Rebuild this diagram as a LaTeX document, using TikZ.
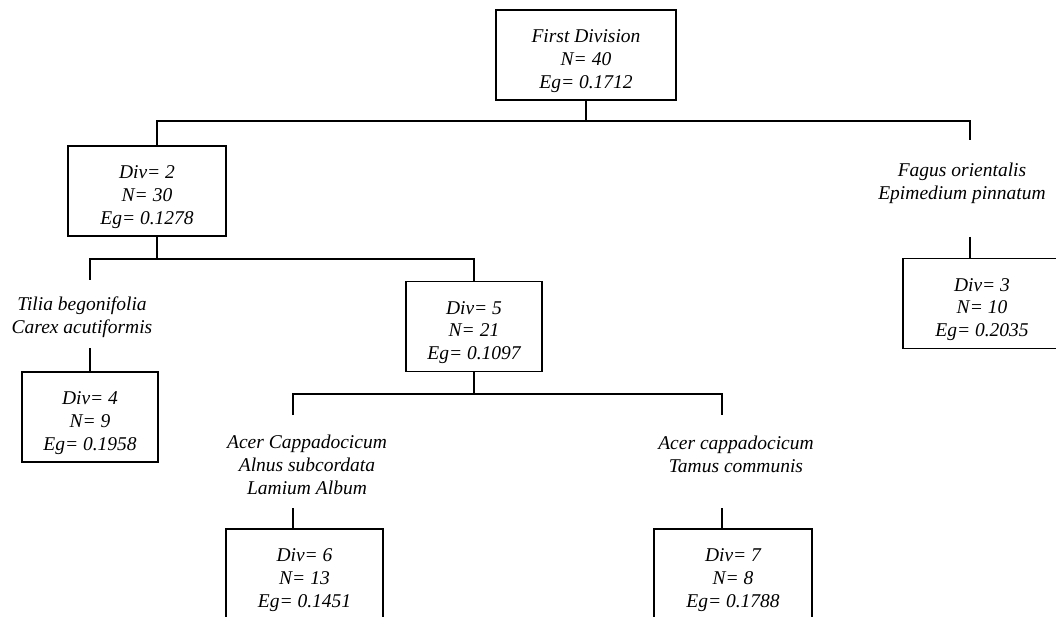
\documentclass[tikz,border=0pt]{standalone}
\usepackage{fontspec}
\setmainfont{Liberation Serif}
\newcommand\dvstrut{\rule{0pt}{25pt}}
\begin{document}
\begin{tikzpicture}[x=1pt,y=-1pt,
  txt/.style={font=\fontsize{19.5}{22.7}\selectfont\itshape, align=center, inner sep=0pt},
  divbox/.style={txt, draw, line width=1.6pt, minimum height=90pt},
  conn/.style={line width=1.6pt}]
\useasboundingbox (0,0) rectangle (1056,617);
\clip (0,0) rectangle (1056,617);
% boxes
\node[divbox, minimum width=180pt] (top) at (586,55) {\dvstrut First Division\\N= 40\\Eg= 0.1712};
\node[divbox, minimum width=158pt] (d2) at (147,191) {\dvstrut Div= 2\\N= 30\\Eg= 0.1278};
\node[divbox, minimum width=158pt] (d3) at (982,303.5) {\dvstrut Div= 3\\N= 10\\Eg= 0.2035};
\node[divbox, minimum width=136pt] (d4) at (90,417) {\dvstrut Div= 4\\N= 9\\Eg= 0.1958};
\node[divbox, minimum width=136pt] (d5) at (474,326.5) {\dvstrut Div= 5\\N= 21\\Eg= 0.1097};
\node[divbox, minimum width=157pt] (d6) at (304.5,574) {\dvstrut Div= 6\\N= 13\\Eg= 0.1451};
\node[divbox, minimum width=158pt] (d7) at (733,574) {\dvstrut Div= 7\\N= 8\\Eg= 0.1788};
% species labels
\node[txt] (sf) at (962,183) {Fagus orientalis\\Epimedium pinnatum};
\node[txt] (st) at (82,317) {Tilia begonifolia\\Carex acutiformis};
\node[txt] (sa) at (307,465) {Acer Cappadocicum\\Alnus subcordata\\Lamium Album};
\node[txt] (sc) at (736,454) {Acer cappadocicum\\Tamus communis};
% connector points
\coordinate (bar1) at (0,121);
\coordinate (a2) at (157,146);
\coordinate (a3) at (970,140);
\coordinate (b2) at (157,236);
\coordinate (bar2) at (0,259);
\coordinate (a4) at (90,280);
\coordinate (bar3) at (0,394);
\coordinate (a6) at (293,415);
\coordinate (a7) at (722,415);
% level 1
\draw[conn] (top.south) -- (top.south |- bar1);
\draw[conn] (a2) |- (a3 |- bar1) -- (a3);
% level 2
\draw[conn] (b2) -- (b2 |- bar2);
\draw[conn] (a4) |- (d5.north |- bar2) -- (d5.north);
% level 3
\draw[conn] (d5.south) -- (d5.south |- bar3);
\draw[conn] (a6) |- (a7 |- bar3) -- (a7);
% stems above leaf boxes
\coordinate (c4) at (90,348);
\draw[conn] (c4) -- (d4.north);
\coordinate (c3) at (970,237);
\draw[conn] (c3) -- (c3 |- d3.north);
\coordinate (c6) at (293,508);
\draw[conn] (c6) -- (c6 |- d6.north);
\coordinate (c7) at (722,508);
\draw[conn] (c7) -- (c7 |- d7.north);
\end{tikzpicture}
\end{document}
